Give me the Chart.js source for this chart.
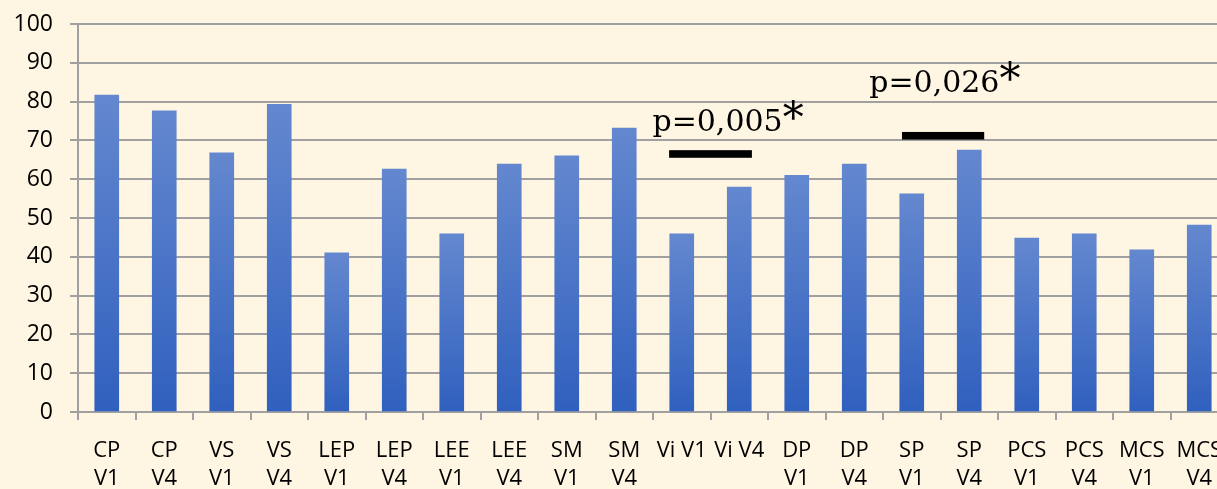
<!DOCTYPE html>
<html>
<head>
<meta charset="utf-8">
<script src="https://cdn.jsdelivr.net/npm/chart.js@4.4.1/dist/chart.umd.min.js"></script>
<style>
  html, body { margin: 0; padding: 0; background: #FEF5E2; overflow: hidden; }
  #wrap { position: absolute; left: 0; top: 0; width: 1228px; height: 489px; }
</style>
</head>
<body>
<div id="wrap"><canvas id="chart"></canvas></div>
<script>
// categorias (eixo x) e valores
const labels = [
  ['CP', 'V1'], ['CP', 'V4'], ['VS', 'V1'], ['VS', 'V4'],
  ['LEP', 'V1'], ['LEP', 'V4'], ['LEE', 'V1'], ['LEE', 'V4'],
  ['SM', 'V1'], ['SM', 'V4'], 'Vi V1', 'Vi V4',
  ['DP', 'V1'], ['DP', 'V4'], ['SP', 'V1'], ['SP', 'V4'],
  ['PCS', 'V1'], ['PCS', 'V4'], ['MCS', 'V1'], ['MCS', 'V4']
];
const values = [81.7, 77.6, 66.8, 79.3, 41.0, 62.6, 45.9, 63.9, 66.0, 73.2,
                45.9, 58.0, 61.0, 63.9, 56.2, 67.5, 44.8, 45.9, 41.8, 48.2];

// anotações de significância (em unidades do gráfico)
const sigTexts = ['p=0,005', 'p=0,026'];
const sigBars = [
  { from: 9.78, to: 11.22, y: 66.5, textX: 9.49, textY: 72.5 },
  { from: 13.83, to: 15.26, y: 71.2, textX: 13.26, textY: 82.5 }
];

const GRID = '#a0a0a0';

function barGradient(ctx) {
  const chart = ctx.chart;
  const { chartArea, scales } = chart;
  if (!chartArea || ctx.raw === undefined) return '#4a74c7';
  const top = scales.y.getPixelForValue(ctx.raw);
  const bottom = scales.y.getPixelForValue(0);
  const g = chart.ctx.createLinearGradient(0, top, 0, bottom);
  g.addColorStop(0, '#6488CF');
  g.addColorStop(1, '#3060BE');
  return g;
}

const sigPlugin = {
  id: 'sig',
  afterDatasetsDraw(chart) {
    const { ctx, scales } = chart;
    const x = scales.x, y = scales.y;
    ctx.save();
    sigBars.forEach((b, i) => {
      ctx.fillStyle = '#000';
      const yp = y.getPixelForValue(b.y);
      const x1 = x.getPixelForValue(b.from), x2 = x.getPixelForValue(b.to);
      ctx.fillRect(x1, yp - 3.8, x2 - x1, 7.6);
      const tx = x.getPixelForValue(b.textX), ty = y.getPixelForValue(b.textY);
      ctx.textBaseline = 'alphabetic';
      ctx.textAlign = 'left';
      ctx.font = "30px 'DejaVu Serif'";
      ctx.fillText(sigTexts[i], tx, ty);
      const w = ctx.measureText(sigTexts[i]).width;
      ctx.font = "42px 'DejaVu Serif'";
      ctx.fillText('*', tx + w, ty + 1);
    });
    ctx.restore();
  }
};

new Chart(document.getElementById('chart'), {
  type: 'bar',
  data: {
    labels,
    datasets: [{
      data: values,
      backgroundColor: barGradient,
      borderWidth: 0,
      barThickness: 24
    }]
  },
  options: {
    responsive: true,
    maintainAspectRatio: false,
    animation: false,
    layout: { padding: { top: 24, left: 0, right: 0, bottom: 0 } },
    plugins: { legend: { display: false }, tooltip: { enabled: false } },
    scales: {
      x: {
        afterFit: s => { s.height = 77; s.paddingLeft = 0; s.paddingRight = 0; },
        grid: { display: true, drawOnChartArea: false, offset: true, tickLength: 8, color: GRID, lineWidth: 2 },
        border: { color: GRID, width: 2 },
        ticks: {
          color: '#000',
          maxRotation: 0,
          autoSkip: false,
          padding: 17,
          font: { family: "'Open Sans'", size: 22, lineHeight: 28 / 22 }
        }
      },
      y: {
        min: 0,
        max: 100,
        afterFit: s => { s.width = 78; s.paddingTop = 0; s.paddingBottom = 0; },
        grid: { color: GRID, lineWidth: 2, tickLength: 8 },
        border: { color: GRID, width: 2 },
        ticks: {
          color: '#000',
          stepSize: 10,
          padding: 17,
          font: { family: "'Open Sans'", size: 23 }
        }
      }
    }
  },
  plugins: [sigPlugin]
});
</script>
</body>
</html>
